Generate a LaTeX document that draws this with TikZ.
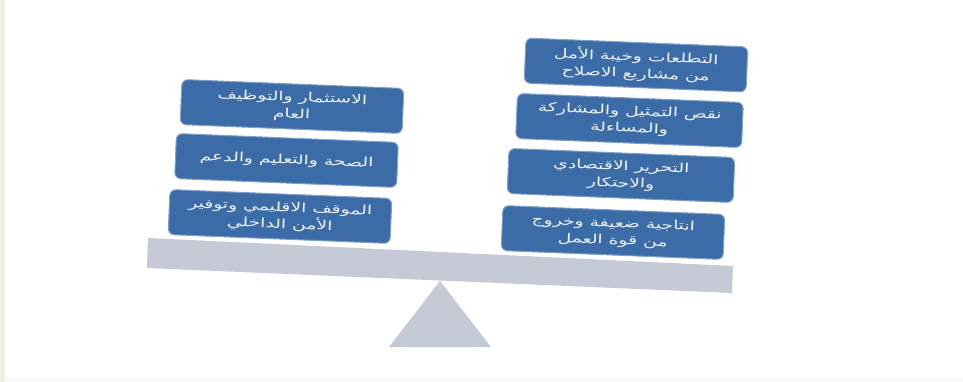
\documentclass[tikz,border=0pt]{standalone}
\usepackage{fontspec}
\TeXXeTstate=1
\newfontfamily\arabicfont[Script=Arabic,FakeStretch=1.5]{DejaVu Sans}
\definecolor{boxblue}{HTML}{3C6CA8}
\definecolor{boxedge}{HTML}{7FA0CB}
\definecolor{beamgray}{HTML}{C6CAD6}
\definecolor{stripgreen}{HTML}{EEF1DF}
\definecolor{textwhite}{HTML}{EEF2F8}
\tikzset{
  argbox/.style={rounded corners=6pt, fill=boxblue, draw=boxedge, line width=1pt,
    minimum width=222pt, minimum height=45pt, inner sep=1pt,
    text=textwhite, align=center, rotate=-2.3,
    font=\arabicfont\fontsize{12.5}{17}\selectfont},
  beamshape/.style={fill=beamgray, draw=none}
}
\newcommand{\rtl}[1]{\beginR #1\endR}
\begin{document}
\begin{tikzpicture}[x=1pt,y=-1pt]
\useasboundingbox (0,0) rectangle (963,382);
\fill[white] (0,0) rectangle (963,382);
\fill[stripgreen] (0,0) rectangle (5,382);
\fill[black!2] (5,377) rectangle (963,382);
% beam and fulcrum
\coordinate (btl) at (148,238);
\coordinate (btr) at (733,266);
\coordinate (bbr) at (732,293);
\coordinate (bbl) at (147,268);
\fill[beamshape] (btl) -- (btr) -- (bbr) -- (bbl) -- cycle;
\coordinate (apex) at (440,281);
\coordinate (baseL) at (389,347);
\coordinate (baseR) at (491,347);
\fill[beamshape] (apex) -- (baseR) -- (baseL) -- cycle;
% left boxes
\node[argbox] (l1) at (292,106.5) {\rtl{الاستثمار والتوظيف}\\\rtl{العام}};
\node[argbox] (l2) at (286.5,160.5) {\rtl{الصحة والتعليم والدعم}};
\node[argbox] (l3) at (280,216.5) {\rtl{الموقف الاقليمي وتوفير}\\\rtl{الأمن الداخلي}};
% right boxes
\node[argbox] (r1) at (636,65) {\rtl{التطلعات وخيبة الأمل}\\\rtl{من مشاريع الاصلاح}};
\node[argbox,minimum width=226pt] (r2) at (629.5,120.5) {\rtl{نقص التمثيل والمشاركة}\\\rtl{والمساءلة}};
\node[argbox,minimum width=226pt] (r3) at (621,175.5) {\rtl{التحرير الاقتصادي}\\\rtl{والاحتكار}};
\node[argbox] (r4) at (613,232.5) {\rtl{انتاجية ضعيفة وخروج}\\\rtl{من قوة العمل}};
\end{tikzpicture}
\end{document}
